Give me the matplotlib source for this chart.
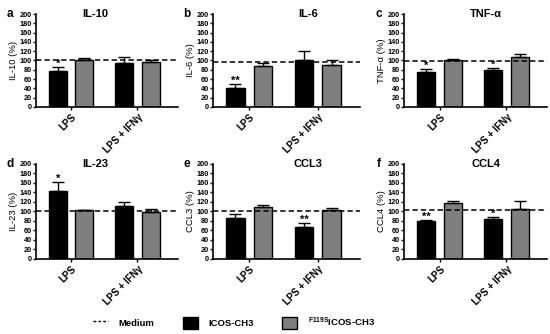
import matplotlib
matplotlib.use('Agg')
import matplotlib.pyplot as plt
from matplotlib.lines import Line2D
from matplotlib.patches import Patch

plt.rcParams['font.family'] = ['Liberation Sans', 'DejaVu Sans']
plt.rcParams['font.weight'] = 'bold'
plt.rcParams['mathtext.fontset'] = 'custom'
plt.rcParams['mathtext.bf'] = 'Liberation Sans:bold'
plt.rcParams['mathtext.rm'] = 'Liberation Sans:bold'

groups = ['LPS', 'LPS + IFNγ']
panels = ['a', 'b', 'c', 'd', 'e', 'f']
titles = ['IL-10', 'IL-6', 'TNF-α', 'IL-23', 'CCL3', 'CCL4']
ylabels = ['IL-10 (%)', 'IL-6 (%)', 'TNF-α (%)', 'IL-23 (%)', 'CCL3 (%)', 'CCL4 (%)']

# ICOS-CH3 (black) and F119S ICOS-CH3 (gray), per group
icos = [[78, 94], [41, 101], [76, 79], [144, 111], [87, 67], [79, 84]]
icos_err = [[8, 14], [8, 19], [5, 4], [19, 9], [7, 9], [3, 5]]
f119s = [[101, 96], [89, 91], [101, 108], [102, 99], [109, 104], [117, 105]]
f119s_err = [[4, 5], [5, 9], [2, 6], [1, 6], [5, 3], [6, 18]]
medium = [100, 97, 98, 100, 100, 103]
stars = [['*', ''], ['**', ''], ['*', '*'], ['*', ''], ['', '**'], ['**', '*']]

fig = plt.figure(figsize=(5.5, 3.34), dpi=100)

lefts = [0.0655, 0.387, 0.735]
widths = [0.258, 0.267, 0.26]
bottoms = [0.680, 0.225]
heights = [0.278, 0.284]
title_x = [0.42, 0.65, 0.57]

x = [0, 1]
w = 0.27
off = 0.2
for i in range(6):
    r, c = divmod(i, 3)
    ax = fig.add_axes([lefts[c], bottoms[r], widths[c], heights[r]])
    ax.bar([v - off for v in x], icos[i], w, color='black', edgecolor='black', lw=1,
           yerr=[[0, 0], icos_err[i]], capsize=4, error_kw=dict(lw=1, capthick=1), zorder=2)
    ax.bar([v + off for v in x], f119s[i], w, color='#7f7f7f', edgecolor='black', lw=1,
           yerr=[[0, 0], f119s_err[i]], capsize=4, error_kw=dict(lw=1, capthick=1), zorder=2)
    ax.axhline(medium[i], color='black', ls='--', lw=1.1, dashes=(3.5, 2), zorder=3)
    for j in range(2):
        if stars[i][j]:
            ax.text(x[j] - off, icos[i][j] + icos_err[i][j] - 4, stars[i][j],
                    ha='center', va='bottom', fontsize=8)
    ax.set_xlim(-0.53, 1.61)
    ax.set_ylim(0, 200)
    ax.set_yticks(range(0, 201, 20))
    ax.set_xticks(x)
    ax.set_xticklabels(groups, rotation=45, ha='right', rotation_mode='anchor', fontsize=7)
    ax.tick_params(axis='y', labelsize=5.3, length=2, width=1, pad=1)
    ax.tick_params(axis='x', length=2, width=1, pad=2)
    ax.set_ylabel(ylabels[i], fontsize=6.8, labelpad=1)
    for s in ['top', 'right']:
        ax.spines[s].set_visible(False)
    for s in ['left', 'bottom']:
        ax.spines[s].set_linewidth(1.2)
    ax.text(title_x[c], 1.0, titles[i], transform=ax.transAxes, ha='center', va='center',
            fontsize=8)
    fig.text(lefts[c] - (0.048 if c == 0 else 0.047), bottoms[r] + heights[r], panels[i],
             ha='center', va='center', fontsize=8.5)

handles = [Line2D([0], [0], color='black', ls='--', lw=1, dashes=(2, 1.5)),
           Patch(facecolor='black', edgecolor='black'),
           Patch(facecolor='#7f7f7f', edgecolor='black')]
labels = ['Medium', 'ICOS-CH3', r'$^{\mathbf{F119S}}$ICOS-CH3']
fig.legend(handles, labels, loc='center', bbox_to_anchor=(0.425, 0.035), ncol=3,
           frameon=False, fontsize=6.8, handlelength=1.6, handleheight=1.6,
           columnspacing=3.0, handletextpad=1.1)

fig.savefig('out.png', dpi=100)
